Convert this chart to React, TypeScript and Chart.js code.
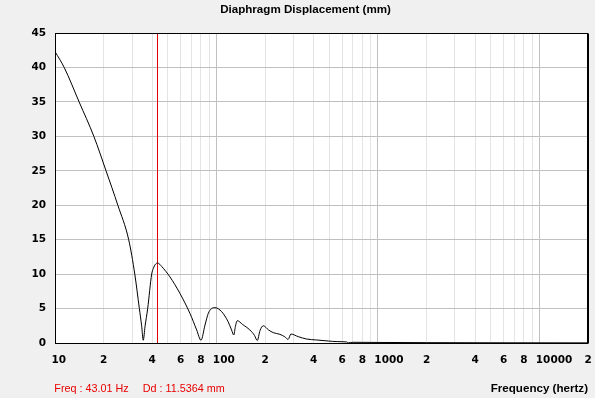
import React, { useEffect, useRef } from 'react';
import { Chart, registerables } from 'chart.js';

Chart.register(...registerables);

// Frequency (Hz) of each sample on the curve
const freqHz = [
  10, 11.4, 14.1, 17.4, 20.7, 24.5, 28.6, 31.2, 33.3, 34.4, 35.2,
  36.1, 37.5, 39.7, 40.6, 42.0, 43.3, 45.8, 51.5, 59.4, 68.5, 75.4, 80.2,
  84.9, 89, 93.3, 97.9, 107.7, 118, 124, 128, 131, 134.5, 145, 161, 172, 179,
  186, 195, 210, 225, 247, 265, 278, 289, 321, 361, 417, 492, 560, 640, 655,
  700, 1000, 2000, 5000, 20000,
];
// Diaphragm displacement (mm) at each frequency
const displacementMm = [
  42.3, 40, 35, 30, 25, 20, 15, 10, 5, 2.5, 0.4,
  2.4, 5, 10, 10.8, 11.47, 11.6, 11.1, 9.6, 7.2, 4.3, 1.9, 0.4,
  2.6, 4.3, 5.0, 5.13, 4.55, 3.1, 1.9, 1.16, 2.4, 3.24, 2.7, 1.89, 1.1, 0.35,
  1.8, 2.5, 1.9, 1.5, 1.26, 0.9, 0.53, 1.3, 0.92, 0.58, 0.44, 0.29, 0.2, 0.15, 0.03,
  0.1, 0.08, 0.05, 0.03, 0.02,
];
// Log-axis grid / tick positions
const xTickValues = [
  10, 20, 30, 40, 50, 60, 70, 80, 90,
  100, 200, 300, 400, 500, 600, 700, 800, 900,
  1000, 2000, 3000, 4000, 5000, 6000, 7000, 8000, 9000,
  10000, 20000,
];
const xMajorValues = [10, 100, 1000, 10000];
const xLabelledMantissas = [1, 2, 4, 6, 8];
const yMin = 0;
const yMax = 45;
const yStep = 5;

const cursorFreq = 43.01;
const cursorDisp = 11.5364;
const titleText = 'Diaphragm Displacement (mm)';
const xAxisTitle = 'Frequency (hertz)';

const mantissaOf = (v: number) => {
  const e = Math.floor(Math.log10(v) + 1e-9);
  return Math.round(v / Math.pow(10, e));
};

const decorPlugin = {
  id: 'decor',
  beforeDraw(chart: any) {
    const { ctx, chartArea } = chart;
    ctx.save();
    ctx.fillStyle = '#f0f0f0';
    ctx.fillRect(0, 0, chart.width, chart.height);
    ctx.fillStyle = '#ffffff';
    ctx.fillRect(chartArea.left, chartArea.top, chartArea.right - chartArea.left, chartArea.bottom - chartArea.top);
    ctx.restore();
  },
  beforeDatasetsDraw(chart: any) {
    const { ctx, chartArea } = chart;
    const x = Math.round(chart.scales.x.getPixelForValue(cursorFreq)) + 0.5;
    ctx.save();
    ctx.strokeStyle = '#e00000';
    ctx.lineWidth = 1;
    ctx.beginPath();
    ctx.moveTo(x, chartArea.top);
    ctx.lineTo(x, chartArea.bottom);
    ctx.stroke();
    ctx.restore();
  },
  afterDatasetsDraw(chart: any) {
    const { ctx, chartArea } = chart;
    const l = Math.round(chartArea.left) + 0.5;
    const t = Math.round(chartArea.top) + 0.5;
    const r = Math.round(chartArea.right) - 0.5;
    const b = Math.round(chartArea.bottom) + 0.5;
    ctx.save();
    ctx.strokeStyle = '#000000';
    ctx.lineWidth = 1;
    ctx.strokeRect(l, t, r - l, b - t);
    ctx.beginPath();
    ctx.moveTo(r + 1, t);
    ctx.lineTo(r + 1, b);
    ctx.stroke();
    ctx.restore();
  },
  afterDraw(chart: any) {
    const { ctx, chartArea } = chart;
    ctx.save();
    ctx.textBaseline = 'alphabetic';
    ctx.fillStyle = '#000000';
    ctx.font = 'bold 11.6px "Liberation Sans", Arial, sans-serif';
    ctx.textAlign = 'center';
    ctx.fillText(titleText, 305.5, 13);
    ctx.textAlign = 'right';
    ctx.fillText(xAxisTitle, chartArea.right, 392);
    ctx.fillStyle = '#e80000';
    ctx.font = '10.8px "Liberation Sans", Arial, sans-serif';
    ctx.textAlign = 'left';
    ctx.fillText(`Freq : ${cursorFreq.toFixed(2)} Hz`, 54.3, 392);
    ctx.fillText(`Dd : ${cursorDisp.toFixed(4)} mm`, 142.7, 392);
    ctx.restore();
  },
};

export default function App() {
  const canvasRef = useRef<HTMLCanvasElement | null>(null);

  useEffect(() => {
    document.body.style.margin = '0';
    document.body.style.background = '#f0f0f0';
    const canvas = canvasRef.current;
    if (!canvas) return;
    const tickFont = { family: '"DejaVu Sans", Verdana, sans-serif', size: 10.5, weight: 'bold' as const };
    const chart = new Chart(canvas, {
      type: 'line',
      data: {
        datasets: [
          {
            data: freqHz.map((f, i) => ({ x: f, y: displacementMm[i] })),
            borderColor: '#000000',
            borderWidth: 1,
            pointRadius: 0,
            fill: false,
            cubicInterpolationMode: 'monotone',
          },
        ],
      },
      options: {
        responsive: false,
        animation: false,
        events: [],
        layout: { padding: { top: 33, right: 7, left: 0, bottom: 0 } },
        plugins: { legend: { display: false }, tooltip: { enabled: false }, title: { display: false } },
        scales: {
          x: {
            type: 'logarithmic',
            min: 10,
            max: 20000,
            afterBuildTicks: (scale: any) => {
              scale.ticks = xTickValues.map((v) => ({ value: v, major: xMajorValues.includes(v) }));
            },
            afterFit: (scale: any) => {
              scale.height = 55;
              scale.paddingLeft = 0;
              scale.paddingRight = 0;
            },
            grid: {
              drawTicks: false,
              color: (c: any) => (c.tick && xMajorValues.includes(c.tick.value) ? '#c0c0c0' : '#e4e4e4'),
              lineWidth: 1,
            },
            border: { display: false },
            ticks: {
              autoSkip: false,
              maxRotation: 0,
              minRotation: 0,
              align: 'start',
              labelOffset: -3.6,
              padding: 11,
              color: '#000000',
              font: tickFont,
              callback: (value: any) => {
                const v = Number(value);
                const m = mantissaOf(v);
                if (!xLabelledMantissas.includes(m)) return '';
                return m === 1 ? String(v) : String(m);
              },
            },
          },
          y: {
            type: 'linear',
            min: yMin,
            max: yMax,
            afterFit: (scale: any) => {
              scale.width = 55;
              scale.paddingTop = 0;
              scale.paddingBottom = 0;
            },
            grid: { drawTicks: false, color: '#c0c0c0', lineWidth: 1 },
            border: { display: false },
            ticks: {
              stepSize: yStep,
              padding: 9,
              color: '#000000',
              font: tickFont,
            },
          },
        },
      },
      plugins: [decorPlugin],
    });
    return () => chart.destroy();
  }, []);

  return <canvas ref={canvasRef} width={595} height={398} style={{ display: 'block' }} />;
}
